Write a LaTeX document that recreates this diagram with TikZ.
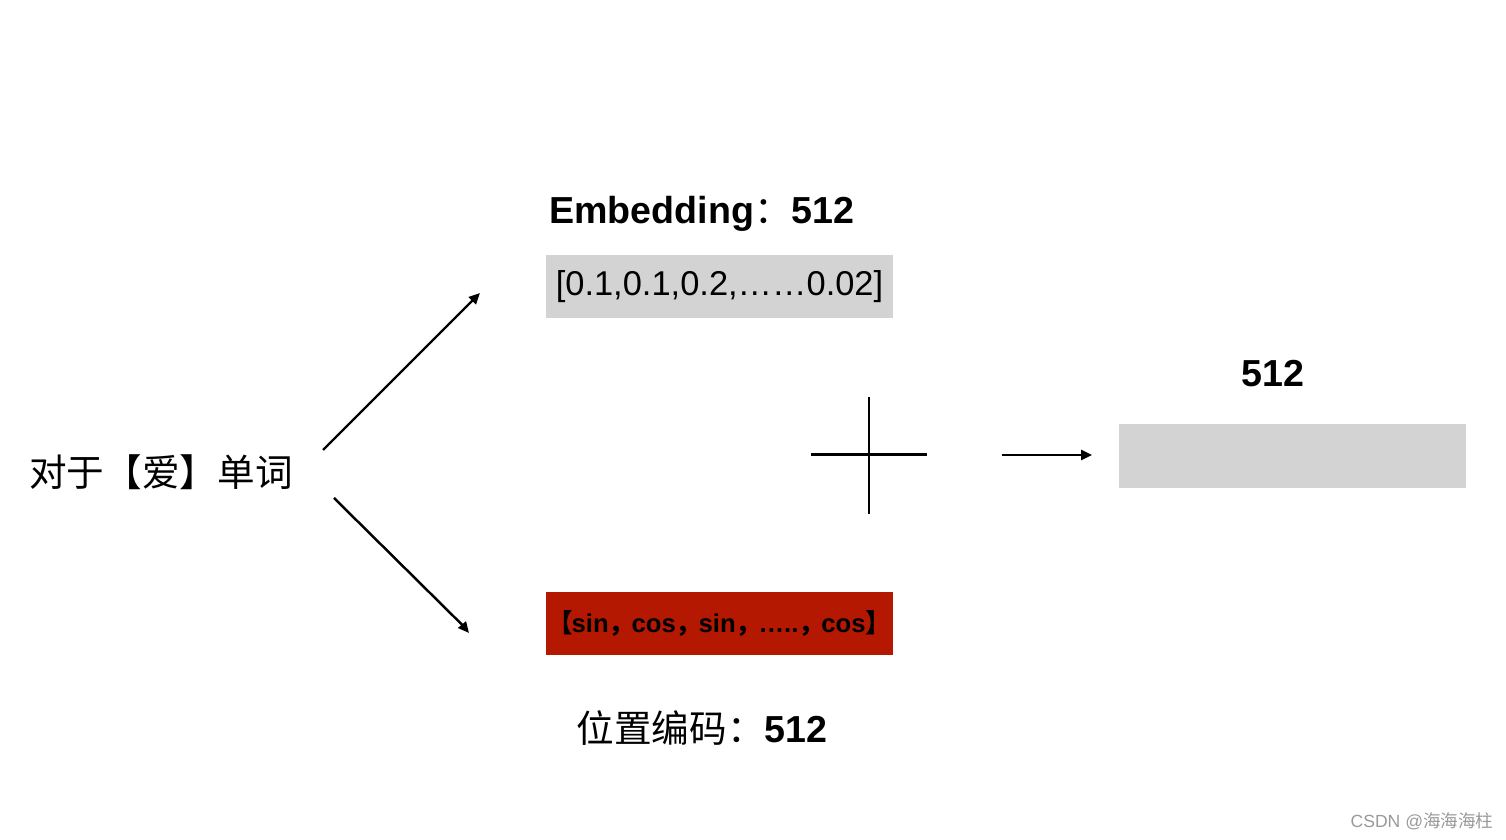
\documentclass[tikz,border=0pt]{standalone}
\usepackage{fontspec}
\setmainfont{Liberation Sans}
\newfontfamily\cjk{Noto Sans CJK SC}
\usetikzlibrary{arrows.meta,positioning}
\definecolor{boxgray}{RGB}{211,211,211}
\definecolor{posred}{RGB}{180,24,0}
\newcommand{\zc}{{\cjk ，}\kern-0.8pt}

\begin{document}
\begin{tikzpicture}[
    vec/.style={minimum width=3.47cm, minimum height=0.63cm, inner sep=0, font=\fontsize{9.8}{12}\selectfont},
    title/.style={inner sep=0, font=\fontsize{10.7}{13}\selectfont\bfseries},
    arr/.style={-{Triangle[length=1.1mm,width=1mm]}, line width=0.7pt}
]
\useasboundingbox (0,0) rectangle (15.06,8.4);

\node[inner sep=0, font=\fontsize{10.7}{13}\selectfont\cjk] (word) at (1.61,3.68) {对于【爱】单词};

\node[title] (embt) at (7.02,6.26) {Embedding{\cjk\mdseries ：}512};
\node[vec, fill=boxgray] (emb) at (7.195,5.535) {[0.1,0.1,0.2,……0.02]};
\node[vec, fill=posred, font=\fontsize{7.3}{10}\selectfont\bfseries] (pos) at (7.195,2.16)
    {\kern-2pt{\cjk 【}\kern-0.5pt sin\zc cos\zc sin\zc …..\zc cos{\cjk 】}\kern-2pt};
\node[inner sep=0, font=\fontsize{10.7}{13}\selectfont] (post) at (7.02,1.12) {{\cjk 位置编码：}\textbf{512}};

\node[title] (outt) at (12.73,4.66) {512};
\node[vec, fill=boxgray, minimum height=0.64cm] (out) at (12.92,3.84) {};

\node[inner sep=0, font=\fontsize{5}{6}\selectfont, text=gray!80] (mark) at (14.22,0.19) {CSDN @{\cjk 海海海柱}};

% plus sign
\coordinate (plus) at (8.69,3.85);
\draw[line width=0.85pt] ([xshift=-5.8mm]plus) -- ([xshift=5.8mm]plus);
\draw[line width=0.85pt] ([yshift=-5.9mm]plus) -- ([yshift=5.8mm]plus);

\coordinate (up0) at (3.23,3.90);
\coordinate (up1) at (4.80,5.47);
\coordinate (dn0) at (3.34,3.42);
\coordinate (dn1) at (4.69,2.07);
\coordinate (res0) at (10.02,3.85);
\coordinate (res1) at (10.92,3.85);

\draw[arr] (up0) -- (up1);
\draw[arr] (dn0) -- (dn1);
\draw[arr] (res0) -- (res1);
\end{tikzpicture}
\end{document}
